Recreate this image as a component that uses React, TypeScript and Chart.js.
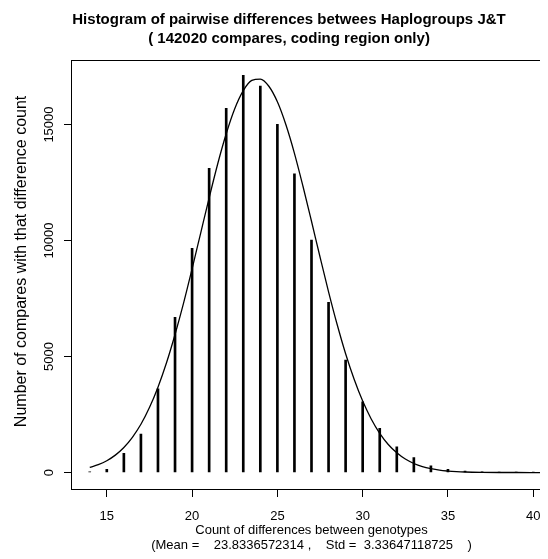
import React, { useEffect, useRef } from 'react';
import { Chart, registerables } from 'chart.js';

Chart.register(...registerables);

const FONT = "'Liberation Sans', Arial, Helvetica, sans-serif";

const titleLines = [
  'Histogram of pairwise differences betwees Haplogroups J&T',
  '( 142020 compares, coding region only)',
];
const xTitleLines = [
  'Count of differences between genotypes',
  '(Mean =    23.8336572314 ,    Std =  3.33647118725    )',
];
const yTitleText = '      Number of compares with that difference count';

// Histogram: count of differences -> number of compares
const diffCounts = [14, 15, 16, 17, 18, 19, 20, 21, 22, 23, 24, 25, 26, 27, 28, 29, 30, 31, 32, 33, 34, 35, 36, 37, 38, 39, 40];
const compareCounts = [30, 140, 830, 1660, 3610, 6690, 9660, 13110, 15700, 17120, 16660, 15010, 12870, 10020, 7340, 4850, 3050, 1900, 1110, 640, 290, 140, 60, 25, 10, 5, 2];

// Fitted curve
const curveX = [14, 14.5, 15, 15.5, 16, 16.5, 17, 17.5, 18, 18.5, 19, 19.5, 20, 20.5, 21, 21.5, 22, 22.5, 23, 23.5, 24, 24.5, 25, 25.5, 26, 26.5, 27, 27.5, 28, 28.5, 29, 29.5, 30, 30.5, 31, 31.5, 32, 32.5, 33, 33.5, 34, 34.5, 35, 35.5, 36, 37, 38, 39, 40, 41];
const curveY = [220, 340, 510, 750, 1080, 1520, 2080, 2800, 3680, 4730, 5950, 7300, 8780, 10310, 11840, 13300, 14600, 15680, 16460, 16900, 16960, 16650, 15980, 14990, 13760, 12340, 10830, 9290, 7790, 6390, 5120, 4020, 3080, 2310, 1690, 1210, 850, 580, 390, 255, 165, 100, 63, 38, 22, 7, 2, 1, 0, 0];

const xTicks = [15, 20, 25, 30, 35, 40];
const yTicks = [0, 5000, 10000, 15000];

const boxPlugin = {
  id: 'rbox',
  afterDraw(chart: any) {
    const { ctx, chartArea } = chart;
    const l = Math.round(chartArea.left) - 0.5;
    const t = Math.floor(chartArea.top) + 0.5;
    const r = Math.round(chartArea.right) + 0.5;
    const b = Math.round(chartArea.bottom) + 0.5;
    ctx.save();
    ctx.strokeStyle = '#000';
    ctx.lineWidth = 1;
    ctx.strokeRect(l, t, r - l, b - t);
    ctx.restore();
  },
};

export default function App() {
  const ref = useRef<HTMLCanvasElement | null>(null);

  useEffect(() => {
    if (!ref.current) return;
    Chart.defaults.color = '#000';
    const chart = new Chart(ref.current, {
      type: 'bar',
      data: {
        datasets: [
          {
            type: 'line',
            data: curveX.map((x, i) => ({ x, y: curveY[i] })),
            borderColor: '#000',
            borderWidth: 1.3,
            pointRadius: 0,
            fill: false,
            tension: 0.4,
            cubicInterpolationMode: 'monotone',
          } as any,
          {
            type: 'bar',
            data: diffCounts.map((x, i) => ({ x, y: compareCounts[i] })),
            backgroundColor: '#000',
            borderWidth: 0,
            barThickness: 2,
            grouped: false,
          } as any,
        ],
      },
      options: {
        responsive: false,
        animation: false,
        layout: { padding: 0 },
        plugins: {
          legend: { display: false },
          tooltip: { enabled: false },
          title: {
            display: true,
            text: titleLines,
            color: '#000',
            font: { family: FONT, size: 15, weight: 'bold', lineHeight: 19 / 15 },
            padding: { top: 2, bottom: 12.5 },
          },
        },
        scales: {
          x: {
            type: 'linear',
            min: 12.96,
            max: 41.04,
            offset: false,
            afterBuildTicks: (s: any) => {
              s.ticks = xTicks.map((v) => ({ value: v }));
            },
            afterFit: (s: any) => {
              s.height = 70;
            },
            ticks: {
              color: '#000',
              font: { family: FONT, size: 13 },
              padding: 12,
              maxRotation: 0,
              autoSkip: false,
              callback: (v: any) => String(v),
            },
            grid: { drawOnChartArea: false, drawTicks: true, tickLength: 8, color: '#000', offset: false },
            border: { display: false },
            title: {
              display: true,
              text: xTitleLines,
              color: '#000',
              font: { family: FONT, size: 13, lineHeight: 15 / 13 },
              padding: { top: 0, bottom: 6.5 },
            },
          },
          y: {
            type: 'linear',
            position: 'left',
            min: -710,
            max: 17760,
            afterBuildTicks: (s: any) => {
              s.ticks = yTicks.map((v) => ({ value: v }));
            },
            afterFit: (s: any) => {
              s.width = 64;
            },
            ticks: {
              color: '#000',
              font: { family: FONT, size: 13 },
              minRotation: 90,
              maxRotation: 90,
              crossAlign: 'center',
              padding: -3.5,
              autoSkip: false,
              callback: (v: any) => String(v),
            },
            grid: { drawOnChartArea: false, drawTicks: true, tickLength: 8, color: '#000' },
            border: { display: false },
            title: {
              display: true,
              text: yTitleText,
              color: '#000',
              font: { family: FONT, size: 16, lineHeight: 1.2 },
              padding: { top: 4.4, bottom: 0 },
            },
          },
          yRight: {
            type: 'linear',
            position: 'right',
            display: true,
            afterFit: (s: any) => {
              s.width = 19;
            },
            ticks: { display: false },
            grid: { display: false },
            border: { display: false },
          },
        },
      } as any,
      plugins: [boxPlugin],
    });
    return () => chart.destroy();
  }, []);

  return (
    <div style={{ width: 540, height: 551, overflow: 'hidden' }}>
      <canvas ref={ref} width={562} height={551} style={{ display: 'block', width: 562, height: 551 }} />
    </div>
  );
}
